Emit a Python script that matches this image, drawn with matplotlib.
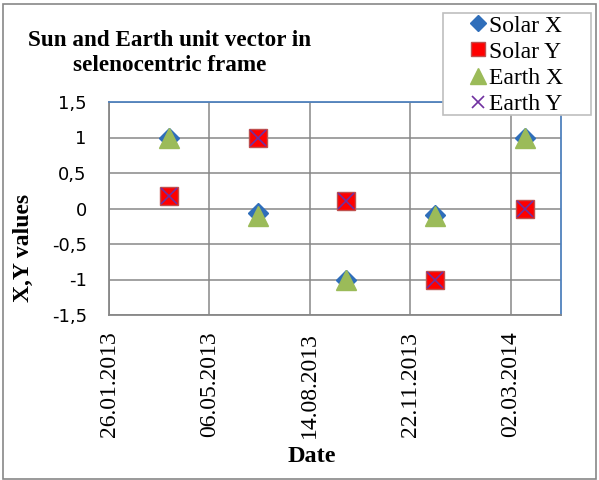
import datetime as dt
import matplotlib
matplotlib.use("Agg")
import matplotlib.pyplot as plt
import matplotlib.dates as mdates
from matplotlib.patches import Rectangle
from matplotlib.ticker import FixedLocator, FuncFormatter

# data
dates = ["27.03.2013", "23.06.2013", "19.09.2013", "17.12.2013", "16.03.2014"]
solar_x = [1.0, -0.07, -1.0, -0.09, 1.0]
solar_y = [0.17, 1.0, 0.1, -1.0, -0.01]
earth_x = [1.0, -0.1, -1.0, -0.11, 1.0]
earth_y = [0.17, 1.0, 0.1, -1.0, -0.01]
y_ticks = [-1.5, -1, -0.5, 0, 0.5, 1, 1.5]
x_start = "26.01.2013"
x_step_days = 100

serif = ["Liberation Serif", "DejaVu Serif"]
grid_col = "#878787"
blue_edge = "#4F81BD"

x = [dt.datetime.strptime(d, "%d.%m.%Y") for d in dates]
x0 = dt.datetime.strptime(x_start, "%d.%m.%Y")
xticks = [x0 + dt.timedelta(days=x_step_days * i) for i in range(5)]

fig = plt.figure(figsize=(5.99, 4.8), dpi=100)
ax = fig.add_axes([109 / 599, 1 - 315 / 480, (561 - 109) / 599, (315 - 102) / 480])

ax.plot(x, solar_x, linestyle="none", marker="D", ms=10.5, color="#2F6EBA", label="Solar X", zorder=3)
ax.plot(x, solar_y, linestyle="none", marker="s", ms=13.5, mfc="#FF0000", mec="#C0504D", mew=1, label="Solar Y", zorder=3)
ax.plot(x, earth_x, linestyle="none", marker="^", ms=15, color="#9BBB59", label="Earth X", zorder=4)
ax.plot(x, earth_y, linestyle="none", marker="x", ms=12, mew=1.2, color="#7030A0", label="Earth Y", zorder=5)

ax.set_xlim(x0, x0 + dt.timedelta(days=450))
ax.set_ylim(-1.5, 1.5)
ax.xaxis.set_major_locator(FixedLocator(mdates.date2num(xticks)))
ax.xaxis.set_major_formatter(mdates.DateFormatter("%d.%m.%Y"))
ax.yaxis.set_major_locator(FixedLocator(y_ticks))
ax.yaxis.set_major_formatter(FuncFormatter(lambda v, p: ("%g" % v).replace(".", ",")))

ax.grid(True, color=grid_col, lw=1.1)
ax.set_axisbelow(True)
ax.tick_params(length=0)
ax.tick_params(axis="y", pad=16, labelsize=13)
ax.tick_params(axis="x", pad=12, labelsize=17, labelrotation=90)
for lab in ax.get_yticklabels():
    lab.set_family("DejaVu Sans")
for lab in ax.get_xticklabels():
    lab.set_family(serif)

for s in ["left", "bottom"]:
    ax.spines[s].set_color(grid_col)
    ax.spines[s].set_linewidth(1.3)
for s in ["top", "right"]:
    ax.spines[s].set_color(blue_edge)
    ax.spines[s].set_linewidth(1.3)

fig.text(170 / 599, 1 - 53 / 480, "Sun and Earth unit vector in\nselenocentric frame",
         ha="center", va="center", family=serif, weight="bold", fontsize=16.7, linespacing=1.29)
fig.text(23 / 599, 1 - 248 / 480, "X,Y values", rotation=90, ha="center", va="center",
         family=serif, weight="bold", fontsize=17)
fig.text(312 / 599, 1 - 457 / 480, "Date", ha="center", va="center",
         family=serif, weight="bold", fontsize=17.5)

# legend box drawn separately so the entries can sit centred in it
fig.patches.append(Rectangle((443 / 599, 1 - 115 / 480), 148 / 599, 102 / 480, transform=fig.transFigure,
                             facecolor="white", edgecolor="#BFBFBF", lw=1.2, zorder=2))
leg = fig.legend(loc="center left", bbox_to_anchor=(468.5 / 599, 1 - 65 / 480), bbox_transform=fig.transFigure,
                 borderaxespad=0, borderpad=0, frameon=False, handlelength=0.8, handletextpad=0.06,
                 labelspacing=0.19, markerscale=0.75, prop={"family": serif, "size": 17})

fig.patches.append(Rectangle((3 / 599, 1 / 480), 593 / 599, 475 / 480, transform=fig.transFigure,
                             fill=False, edgecolor=grid_col, lw=1.2))

fig.savefig("out.png", dpi=100)
